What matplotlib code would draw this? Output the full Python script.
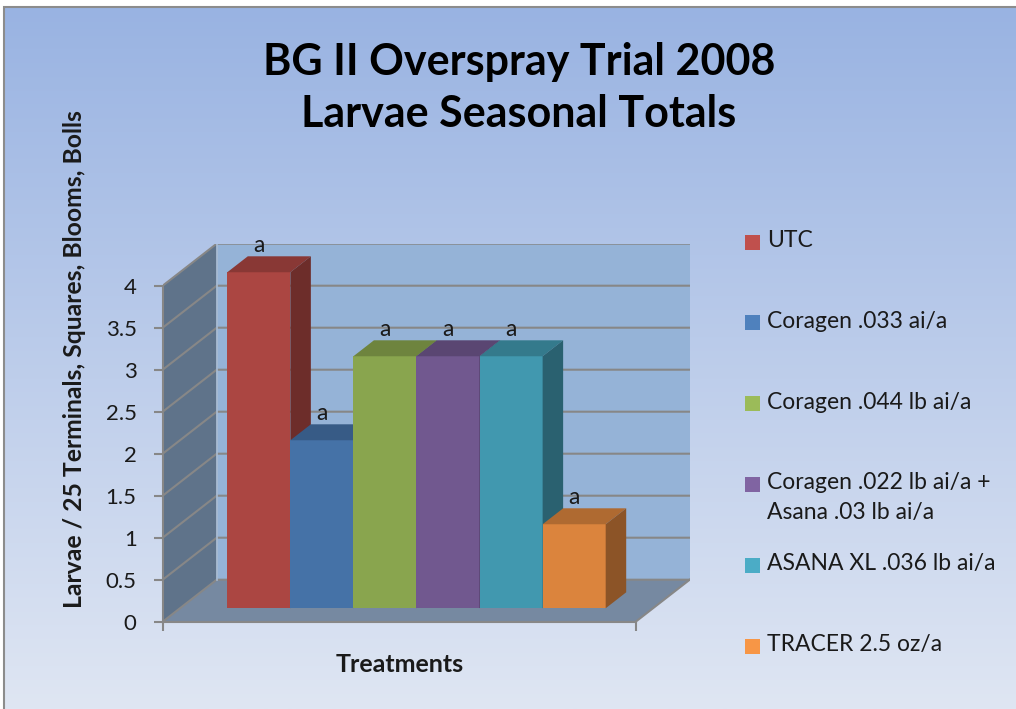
import numpy as np
import matplotlib.pyplot as plt
from matplotlib.patches import Polygon, Rectangle
from matplotlib.colors import to_rgb

plt.rcParams['font.family'] = ['Lato', 'DejaVu Sans']

# data
treatments = ['UTC', 'Coragen .033 ai/a', 'Coragen .044 lb ai/a',
              'Coragen .022 lb ai/a +\nAsana .03 lb ai/a',
              'ASANA XL .036 lb ai/a', 'TRACER 2.5 oz/a']
larvae = [4, 2, 3, 3, 3, 1]
letters = ['a', 'a', 'a', 'a', 'a', 'a']
yticks = [0, 0.5, 1, 1.5, 2, 2.5, 3, 3.5, 4]
title_lines = ['BG II Overspray Trial 2008', 'Larvae Seasonal Totals']

face_colors = ['#ab4642', '#4572a7', '#89a54e', '#71588f', '#4198af', '#db843d']
legend_colors = ['#c0504d', '#4f81bd', '#9bbb59', '#8064a2', '#4bacc6', '#f79646']
grid_c = '#878787'


def shade(c, k):
    return tuple(np.array(to_rgb(c)) * k)


W, H = 1016, 709
fig = plt.figure(figsize=(W / 100, H / 100), dpi=100)

# chart area background gradient + border
bg = fig.add_axes([4 / W, 0, 1 - 4 / W, 1 - 7 / H], zorder=-10)
t = np.linspace(0, 1, 256)[:, None, None]
c_top = np.array(to_rgb('#99b3e2'))
c_bot = np.array(to_rgb('#dfe6f3'))
bg.imshow(c_top + (c_bot - c_top) * t, aspect='auto', extent=[0, 1, 0, 1])
bg.axis('off')
fig.patches.append(Rectangle((4 / W, -0.02), 1.0, 1 - 7 / H + 0.02,
                             transform=fig.transFigure, fill=False,
                             ec='#8c8c8c', lw=1.5))

# 3d-ish layout in data units
n = len(larvae)
gap = 0.75
span = n + 2 * gap
dx, dy = 0.856, 0.5      # wall depth
f0, f1 = 0.32, 0.70      # bar depth range
ymax = max(yticks)

ax = fig.add_axes([162.7 / W, 1 - 621.7 / H, (689.7 - 162.7) / W, 378 / H])
ax.set_xlim(0, span + dx)
ax.set_ylim(0, ymax + dy)
ax.patch.set_visible(False)

ax.add_patch(Polygon([(0, 0), (dx, dy), (dx, ymax + dy), (0, ymax)],
                     fc='#5f738a', ec='none', zorder=1))
ax.add_patch(Polygon([(dx, dy), (span + dx, dy), (span + dx, ymax + dy), (dx, ymax + dy)],
                     fc='#95b3d7', ec='none', zorder=1))
ax.add_patch(Polygon([(0, 0), (span, 0), (span + dx, dy), (dx, dy)],
                     fc='#7689a1', ec='none', zorder=1))
for v in yticks:
    ax.plot([0, dx, span + dx], [v, v + dy, v + dy], color=grid_c, lw=1.5, zorder=2)
ax.plot([dx, dx], [dy, ymax + dy], color='#a9bcd3', lw=1.2, zorder=2)
ax.plot([span, span + dx], [0, dy], color=grid_c, lw=1.5, zorder=2)

# bars
ddx, ddy = (f1 - f0) * dx, (f1 - f0) * dy
for i, (v, c) in enumerate(zip(larvae, face_colors)):
    x0 = gap + i + f0 * dx
    y0 = f0 * dy
    z = 4 + i
    ax.bar(x0, v, width=1, bottom=y0, align='edge', color=c, zorder=z)
    ax.add_patch(Polygon([(x0, y0 + v), (x0 + 1, y0 + v), (x0 + 1 + ddx, y0 + v + ddy),
                          (x0 + ddx, y0 + v + ddy)], fc=shade(c, 0.8), ec='none', zorder=z))
    ax.add_patch(Polygon([(x0 + 1, y0), (x0 + 1 + ddx, y0 + ddy), (x0 + 1 + ddx, y0 + v + ddy),
                          (x0 + 1, y0 + v)], fc=shade(c, 0.64), ec='none', zorder=z))
    ax.text(x0 + 0.5, y0 + v + ddy, letters[i], ha='center', va='bottom',
            fontsize=16.5, color='#1a1a1a', zorder=20)

# axes
for s in ['top', 'right']:
    ax.spines[s].set_visible(False)
ax.spines['left'].set_bounds(0, ymax)
ax.spines['bottom'].set_bounds(0, span)
for s in ['left', 'bottom']:
    ax.spines[s].set_color(grid_c)
    ax.spines[s].set_linewidth(1.5)
ax.set_yticks(yticks)
ax.set_yticklabels([f'{v:g}' for v in yticks])
ax.set_xticks([0, span])
ax.set_xticklabels([])
ax.tick_params(length=6.3, width=1.5, color=grid_c, labelsize=16,
               labelcolor='#1a1a1a', pad=12.5)

ax.annotate('Treatments', xy=(span / 2, 0), xytext=(0, -36), textcoords='offset points',
            ha='center', va='baseline', fontsize=18, fontweight='bold', color='#1a1a1a')
fig.text(75 / W, 1 - 359 / H, 'Larvae / 25 Terminals, Squares, Blooms, Bolls',
         rotation=90, ha='center', va='center', fontsize=17.8, fontweight='bold',
         color='#1a1a1a')

# title
for line, base in zip(title_lines, [75, 127]):
    fig.text(519 / W, 1 - base / H, line, ha='center', va='baseline',
             fontsize=31, fontweight='bold', color='black')

# legend
for i, (lab, c) in enumerate(zip(treatments, legend_colors)):
    yc = 242 + i * 80.8
    fig.patches.append(Rectangle((745 / W, 1 - (yc + 7.5) / H), 15 / W, 15 / H,
                                 transform=fig.transFigure, fc=c, ec='none'))
    fig.text(767 / W, 1 - (yc - 12) / H, lab, ha='left', va='top', fontsize=16.5,
             color='#1a1a1a', linespacing=1.5)

fig.savefig('out.png', dpi=100)
